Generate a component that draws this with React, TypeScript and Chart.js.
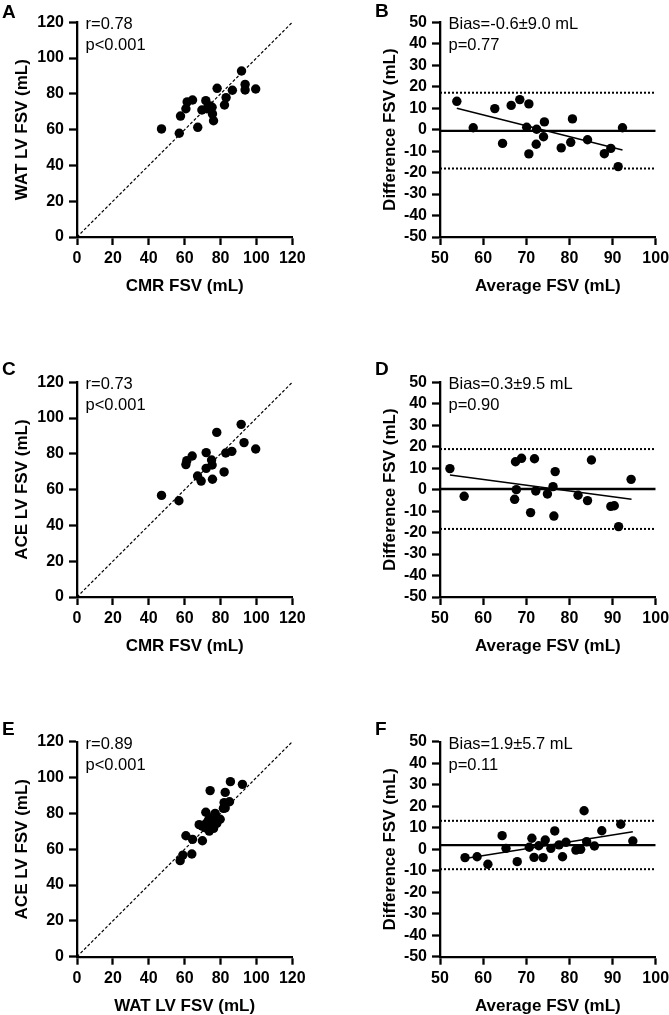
import React, { useEffect, useRef } from 'react';
import { Chart, registerables } from 'chart.js';

Chart.register(...registerables);

const FONT = "'Liberation Sans', Arial, Helvetica, sans-serif";

// ---------- Panel A: WAT vs CMR ----------
const cmrA = [47.1, 57.0, 57.7, 60.7, 61.4, 64.4, 67.3, 69.6, 71.8, 72.4, 74.2, 75.3, 75.5, 76.1, 78.1, 82.2, 83.1, 86.6, 91.7, 93.7, 93.7, 99.6];
const watA = [60.4, 58.0, 67.6, 71.7, 75.5, 76.6, 61.3, 71.0, 76.2, 71.7, 73.2, 72.5, 68.8, 65.0, 83.1, 73.8, 77.9, 82.0, 92.8, 85.3, 82.2, 82.7];

// ---------- Panel B: Bland-Altman WAT vs CMR ----------
const avgB = [53.9, 57.7, 62.7, 64.5, 66.5, 68.5, 70.1, 70.6, 70.6, 72.4, 72.3, 74.2, 74.0, 78.1, 80.3, 80.7, 84.2, 88.1, 89.6, 91.3, 92.3];
const diffB = [13.2, 0.9, 9.8, -6.4, 11.3, 14.0, 1.1, 12.0, -11.3, 0.2, -6.8, 3.6, -3.3, -8.5, -5.9, 5.0, -4.7, -11.2, -8.7, -17.2, 0.9];
const biasB = -0.6;
const loaB = [17.2, -18.1];
const regB = [[53.9, 10.0], [92.3, -9.5]];

// ---------- Panel C: ACE vs CMR ----------
const cmrC = [47.1, 56.8, 60.7, 61.2, 64.2, 67.2, 69.2, 72.0, 72.0, 75.0, 75.3, 75.5, 77.9, 82.0, 82.9, 86.3, 91.5, 93.1, 99.6];
const aceC = [56.8, 53.8, 74.0, 76.2, 78.8, 67.6, 64.8, 80.7, 71.9, 76.6, 73.8, 65.8, 92.0, 69.9, 80.5, 81.4, 96.5, 86.3, 82.7];

// ---------- Panel D: Bland-Altman ACE vs CMR ----------
const avgD = [52.3, 55.6, 67.3, 67.5, 67.7, 68.9, 71.0, 71.9, 72.2, 74.9, 76.2, 76.4, 76.7, 82.0, 84.2, 85.1, 89.6, 90.4, 91.4, 94.3];
const diffD = [9.8, -3.1, -4.5, 13.0, 0.0, 14.6, -10.7, 14.4, -0.6, -2.0, 1.4, -12.3, 8.4, -2.6, -5.1, 13.8, -7.8, -7.5, -17.2, 4.8];
const biasD = 0.3;
const loaD = [18.9, -18.3];
const regD = [[52.3, 6.8], [94.4, -4.5]];

// ---------- Panel E: ACE vs WAT ----------
const watE = [57.5, 59.0, 60.7, 64.0, 64.4, 69.9, 68.1, 69.8, 71.8, 72.0, 73.3, 73.7, 74.2, 75.7, 76.1, 77.0, 77.9, 79.8, 82.6, 82.0, 82.6, 85.0, 85.5, 92.2, 74.5, 71.5, 81.6];
const aceE = [53.6, 56.7, 67.5, 57.3, 65.5, 64.7, 73.7, 72.9, 80.6, 74.4, 76.3, 70.1, 92.7, 77.8, 71.6, 80.0, 74.4, 76.7, 91.7, 86.0, 83.0, 86.5, 97.7, 96.2, 74.0, 72.0, 82.8];

// ---------- Panel F: Bland-Altman ACE vs WAT ----------
const avgF = [55.8, 58.6, 61.1, 64.4, 65.3, 67.9, 70.7, 71.3, 71.8, 72.9, 73.9, 74.4, 75.7, 76.6, 77.6, 78.4, 79.2, 81.5, 82.6, 83.4, 84.0, 85.8, 87.5, 91.9, 94.7];
const diffF = [-3.9, -3.5, -7.0, 6.3, 0.4, -5.8, 0.9, 5.1, -3.8, 1.6, -3.9, 4.3, 0.4, 8.5, 2.0, -3.5, 3.2, -0.4, -0.05, 17.9, 3.5, 1.5, 8.6, 11.6, 3.8];
const biasF = 1.9;
const loaF = [13.2, -9.3];
const regF = [[55.8, -4.3], [94.7, 8.1]];

const corrRange = [0, 120];
const baRange = [50, 100];

const pts = (xs: number[], ys: number[]) => xs.map((x, i) => ({ x, y: ys[i] }));

const scatterDs = (xs: number[], ys: number[]) => ({
  data: pts(xs, ys),
  backgroundColor: '#000',
  borderColor: '#000',
  pointRadius: 4.7,
  pointBorderWidth: 0,
  showLine: false,
  order: 0,
});

const lineDs = (data: { x: number; y: number }[], width: number, dash: number[]) => ({
  data,
  showLine: true,
  borderColor: '#000',
  borderWidth: width,
  borderDash: dash,
  pointRadius: 0,
  fill: false,
  order: 1,
});

const identityLine = () => lineDs([{ x: corrRange[0], y: corrRange[0] }, { x: corrRange[1], y: corrRange[1] }], 1.2, [3, 2]);

const baLines = (bias: number, loa: number[], reg: number[][]) => [
  lineDs([{ x: baRange[0], y: bias }, { x: baRange[1], y: bias }], 2.3, []),
  lineDs([{ x: baRange[0], y: loa[0] }, { x: baRange[1], y: loa[0] }], 2, [2, 2]),
  lineDs([{ x: baRange[0], y: loa[1] }, { x: baRange[1], y: loa[1] }], 2, [2, 2]),
  lineDs([{ x: reg[0][0], y: reg[0][1] }, { x: reg[1][0], y: reg[1][1] }], 1.5, []),
];

type Panel = {
  key: string;
  letter: string;
  letterPos: [number, number];
  lines: string[];
  box: [number, number, number, number]; // canvas left, top, width, height
  area: [number, number, number, number]; // chartArea l, t, r, b (page coords)
  yTitleX: number;
  xTitleY: number;
  x: [number, number, number];
  y: [number, number, number];
  xTitle: string;
  yTitle: string;
  datasets: any[];
};

const L1 = 0, W1 = 335, L2 = 335, W2 = 360;
const panels: Panel[] = [
  {
    key: 'A', letter: 'A', letterPos: [2, 18], lines: ['r=0.78', 'p<0.001'],
    box: [L1, 0, W1, 330], area: [77, 22.3, 292.3, 237], yTitleX: 22, xTitleY: 286,
    x: [0, 120, 20], y: [0, 120, 20], xTitle: 'CMR FSV (mL)', yTitle: 'WAT LV FSV (mL)',
    datasets: [scatterDs(cmrA, watA), identityLine()],
  },
  {
    key: 'B', letter: 'B', letterPos: [375, 17], lines: ['Bias=-0.6±9.0 mL', 'p=0.77'],
    box: [L2, 0, W2, 330], area: [440, 22.3, 655.7, 237], yTitleX: 390, xTitleY: 286,
    x: [50, 100, 10], y: [-50, 50, 10], xTitle: 'Average FSV (mL)', yTitle: 'Difference FSV (mL)',
    datasets: [scatterDs(avgB, diffB), ...baLines(biasB, loaB, regB)],
  },
  {
    key: 'C', letter: 'C', letterPos: [2, 375], lines: ['r=0.73', 'p<0.001'],
    box: [L1, 330, W1, 330], area: [77, 382.3, 292.3, 597], yTitleX: 22, xTitleY: 646,
    x: [0, 120, 20], y: [0, 120, 20], xTitle: 'CMR FSV (mL)', yTitle: 'ACE LV FSV (mL)',
    datasets: [scatterDs(cmrC, aceC), identityLine()],
  },
  {
    key: 'D', letter: 'D', letterPos: [375, 375], lines: ['Bias=0.3±9.5 mL', 'p=0.90'],
    box: [L2, 330, W2, 330], area: [440, 382.3, 655.7, 597], yTitleX: 390, xTitleY: 646,
    x: [50, 100, 10], y: [-50, 50, 10], xTitle: 'Average FSV (mL)', yTitle: 'Difference FSV (mL)',
    datasets: [scatterDs(avgD, diffD), ...baLines(biasD, loaD, regD)],
  },
  {
    key: 'E', letter: 'E', letterPos: [2, 735], lines: ['r=0.89', 'p<0.001'],
    box: [L1, 660, W1, 360], area: [77, 741.7, 292.3, 956.7], yTitleX: 22, xTitleY: 1006,
    x: [0, 120, 20], y: [0, 120, 20], xTitle: 'WAT LV FSV (mL)', yTitle: 'ACE LV FSV (mL)',
    datasets: [scatterDs(watE, aceE), identityLine()],
  },
  {
    key: 'F', letter: 'F', letterPos: [375, 735], lines: ['Bias=1.9±5.7 mL', 'p=0.11'],
    box: [L2, 660, W2, 360], area: [440, 741.7, 655.7, 956.7], yTitleX: 390, xTitleY: 1006,
    x: [50, 100, 10], y: [-50, 50, 10], xTitle: 'Average FSV (mL)', yTitle: 'Difference FSV (mL)',
    datasets: [scatterDs(avgF, diffF), ...baLines(biasF, loaF, regF)],
  },
];

const textPlugin = {
  id: 'panelText',
  afterDraw(chart: any, _args: any, opts: any) {
    const { ctx, chartArea } = chart;
    ctx.save();
    ctx.fillStyle = '#000';
    ctx.textBaseline = 'alphabetic';
    ctx.textAlign = 'left';
    ctx.font = `bold 19px ${FONT}`;
    ctx.fillText(opts.letter, opts.letterX, opts.letterY);
    ctx.font = `16.5px ${FONT}`;
    (opts.lines as string[]).forEach((s, i) => {
      ctx.fillText(s, chartArea.left + 8.5, chartArea.top + 7 + i * 21);
    });
    ctx.restore();
  },
};

const TITLE_HALF = 17 * 1.2 / 2;

function PanelChart({ p }: { p: Panel }) {
  const ref = useRef<HTMLCanvasElement | null>(null);
  useEffect(() => {
    const [cx, cy, cw, ch] = p.box;
    const [l, t, r, b] = p.area;
    const scaleLeft = p.yTitleX - TITLE_HALF;
    const padLeft = scaleLeft - cx;
    const yWidth = l - scaleLeft;
    const xHeight = p.xTitleY + TITLE_HALF - b;
    const padTop = t - cy;
    const padRight = cx + cw - r;
    const padBottom = cy + ch - b - xHeight;

    const tickFont = { family: FONT, size: 16, weight: 'bold' as const };
    const titleFont = { family: FONT, size: 17, weight: 'bold' as const };
    const grid = { drawOnChartArea: false, drawTicks: true, tickLength: 8, tickWidth: 2.3, tickColor: '#000' };
    const border = { display: true, color: '#000', width: 2.3 };

    const chart = new Chart(ref.current as HTMLCanvasElement, {
      type: 'scatter',
      data: { datasets: p.datasets },
      plugins: [textPlugin],
      options: {
        responsive: false,
        animation: false,
        events: [],
        layout: { padding: { left: padLeft, top: padTop, right: padRight, bottom: padBottom } },
        plugins: {
          legend: { display: false },
          tooltip: { enabled: false },
          panelText: { letter: p.letter, letterX: p.letterPos[0] - cx, letterY: p.letterPos[1] - cy, lines: p.lines },
        } as any,
        scales: {
          x: {
            type: 'linear',
            min: p.x[0],
            max: p.x[1],
            ticks: { stepSize: p.x[2], autoSkip: false, maxRotation: 0, minRotation: 0, font: tickFont, color: '#000', padding: 4 },
            grid,
            border,
            title: { display: true, text: p.xTitle, font: titleFont, color: '#000', padding: 0 },
            afterFit: (s: any) => { s.height = xHeight; },
          },
          y: {
            type: 'linear',
            min: p.y[0],
            max: p.y[1],
            ticks: { stepSize: p.y[2], autoSkip: false, font: tickFont, color: '#000', padding: 5 },
            grid,
            border,
            title: { display: true, text: p.yTitle, font: titleFont, color: '#000', padding: 0 },
            afterFit: (s: any) => { s.width = yWidth; },
          },
        },
      } as any,
    });
    return () => chart.destroy();
  }, [p]);

  const [cx, cy, cw, ch] = p.box;
  return (
    <canvas
      ref={ref}
      width={cw}
      height={ch}
      style={{ position: 'absolute', left: cx, top: cy, width: cw, height: ch }}
    />
  );
}

export default function App() {
  return (
    <div style={{ position: 'absolute', left: 0, top: 0, width: 669, height: 1015, overflow: 'hidden', background: '#fff' }}>
      {panels.map((p) => (
        <PanelChart key={p.key} p={p} />
      ))}
    </div>
  );
}
